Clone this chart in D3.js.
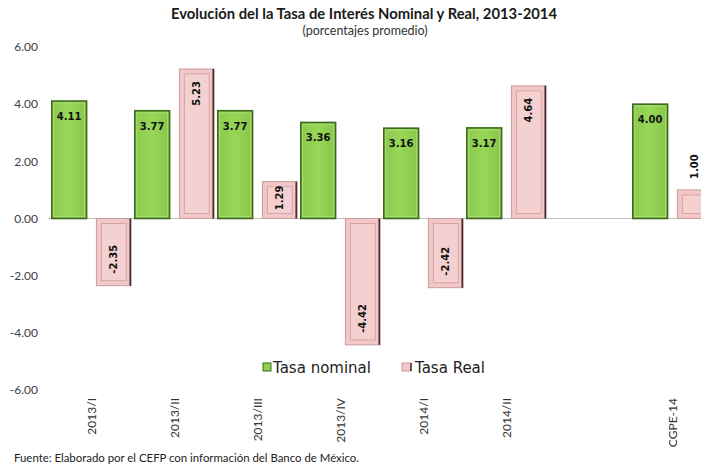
<!DOCTYPE html>
<html>
<head>
<meta charset="utf-8">
<script src="https://cdn.jsdelivr.net/npm/d3@7"></script>
<style>
  body { margin: 0; background: #fff; }
  svg { display: block; }
</style>
</head>
<body>
<div id="chart"></div>
<script>
// datos
let categories = ["2013/I", "2013/II", "2013/III", "2013/IV", "2014/I", "2014/II", "", "CGPE-14"];
let tasaNominal = [4.11, 3.77, 3.77, 3.36, 3.16, 3.17, null, 4.00];
let tasaReal = [-2.35, 5.23, 1.29, -4.42, -2.42, 4.64, null, 1.00];
let yTicks = [-6, -4, -2, 0, 2, 4, 6];

let W = 701, H = 467;
let margin = {top: 47, left: 50, bottom: 77};
let fmt = v => v.toFixed(2);   // guion normal, no el signo menos de d3.format

let svg = d3.select("#chart").append("svg")
    .attr("width", W)
    .attr("height", H);

let defs = svg.append("defs");
let gGreen = defs.append("linearGradient").attr("id", "gGreen")
    .attr("x1", 0).attr("y1", 0).attr("x2", 1).attr("y2", 0);
gGreen.append("stop").attr("offset", "0%").attr("stop-color", "#8cc94e");
gGreen.append("stop").attr("offset", "50%").attr("stop-color", "#97d757");
gGreen.append("stop").attr("offset", "100%").attr("stop-color", "#88c44a");

// escalas
let x = d3.scaleBand()
    .domain(categories.map((c, i) => i))
    .range([margin.left, margin.left + 83 * categories.length])
    .padding(0);
let xs = d3.scaleBand()
    .domain(["nominal", "real"])
    .range([0, x.bandwidth()])
    .paddingInner(0.22)
    .paddingOuter(0.04);
let y = d3.scaleLinear()
    .domain([-6, 6])
    .range([H - margin.bottom, margin.top]);

// titulo
svg.append("text")
    .attr("x", 364).attr("y", 19)
    .attr("text-anchor", "middle")
    .style("font-family", "Lato, 'Liberation Sans', sans-serif")
    .style("font-weight", "bold")
    .style("font-size", "14.8px")
    .style("fill", "#1a1a1a")
    .text("Evolución del la Tasa de Interés Nominal y Real, 2013-2014");
svg.append("text")
    .attr("x", 365).attr("y", 35)
    .attr("text-anchor", "middle")
    .style("font-family", "Lato, 'Liberation Sans', sans-serif")
    .style("font-size", "12.5px")
    .style("fill", "#333")
    .text("(porcentajes promedio)");

// eje y (solo etiquetas)
svg.append("g")
    .selectAll("text")
    .data(yTicks)
    .enter()
    .append("text")
    .attr("x", 38)
    .attr("y", d => y(d))
    .attr("dy", "0.35em")
    .attr("text-anchor", "end")
    .style("font-family", "Lato, 'Liberation Sans', sans-serif")
    .style("font-size", "12px")
    .style("fill", "#404040")
    .text(d => fmt(d));

// linea de cero
svg.append("line")
    .attr("x1", 48).attr("x2", W)
    .attr("y1", y(0)).attr("y2", y(0))
    .style("stroke", "#c0c0c0")
    .style("stroke-width", 1);

// barras nominales
let nomData = categories.map((c, i) => ({i: i, v: tasaNominal[i]})).filter(d => d.v !== null);
let realData = categories.map((c, i) => ({i: i, v: tasaReal[i]})).filter(d => d.v !== null);

let gNom = svg.append("g").selectAll("g")
    .data(nomData)
    .enter()
    .append("g");
gNom.append("rect")
    .attr("x", d => x(d.i) + xs("nominal"))
    .attr("y", d => y(Math.max(0, d.v)))
    .attr("width", xs.bandwidth())
    .attr("height", d => Math.abs(y(d.v) - y(0)))
    .style("fill", "url(#gGreen)")
    .style("stroke", "#3f6a1c")
    .style("stroke-width", 1.6);
gNom.append("rect")
    .attr("x", d => x(d.i) + xs("nominal") + 2)
    .attr("y", d => y(Math.max(0, d.v)) + 2)
    .attr("width", xs.bandwidth() - 4)
    .attr("height", d => Math.abs(y(d.v) - y(0)) - 4)
    .style("fill", "none")
    .style("stroke", "#b3e383")
    .style("stroke-opacity", 0.7)
    .style("stroke-width", 1);
gNom.append("text")
    .attr("x", d => x(d.i) + xs("nominal") + xs.bandwidth() / 2)
    .attr("y", d => y(d.v) + 19)
    .attr("text-anchor", "middle")
    .style("font-family", "'DejaVu Sans', sans-serif")
    .style("font-weight", "bold")
    .style("font-size", "10px")
    .style("fill", "#111")
    .text(d => fmt(d.v));

// barras reales
let gReal = svg.append("g").selectAll("g")
    .data(realData)
    .enter()
    .append("g");
gReal.append("rect")
    .attr("x", d => x(d.i) + xs("real"))
    .attr("y", d => y(Math.max(0, d.v)))
    .attr("width", xs.bandwidth())
    .attr("height", d => Math.abs(y(d.v) - y(0)))
    .style("fill", "#f3c7c7")
    .style("stroke", "#c99c9c")
    .style("stroke-width", 1);
gReal.append("rect")
    .attr("x", d => x(d.i) + xs("real") + 5)
    .attr("y", d => y(Math.max(0, d.v)) + 5)
    .attr("width", xs.bandwidth() - 10)
    .attr("height", d => Math.max(0, Math.abs(y(d.v) - y(0)) - 10))
    .style("fill", "#f5d0d0")
    .style("stroke", "#d4a6a6")
    .style("stroke-width", 1);
gReal.append("line")
    .attr("x1", d => x(d.i) + xs("real") + xs.bandwidth() - 1)
    .attr("x2", d => x(d.i) + xs("real") + xs.bandwidth() - 1)
    .attr("y1", d => y(Math.max(0, d.v)))
    .attr("y2", d => y(Math.min(0, d.v)))
    .style("stroke", "#3a2a2a")
    .style("stroke-width", 1.5);
gReal.append("text")
    .attr("transform", function (d) {
        let cx = x(d.i) + xs("real") + xs.bandwidth() / 2;
        let h = Math.abs(y(d.v) - y(0));
        let ty;
        if (d.v < 0) ty = y(d.v) - 12;
        else if (h < 33) ty = y(d.v) - 11;
        else ty = y(d.v) + Math.min(12, h - 33);
        return "translate(" + cx + "," + ty + ") rotate(-90)";
    })
    .attr("dy", "0.35em")
    .attr("text-anchor", function (d) {
        let h = Math.abs(y(d.v) - y(0));
        if (d.v < 0 || h < 33) return "start";
        return "end";
    })
    .style("font-family", "'DejaVu Sans', sans-serif")
    .style("font-weight", "bold")
    .style("font-size", "10px")
    .style("fill", "#111")
    .text(d => fmt(d.v));

// etiquetas eje x
svg.append("g")
    .selectAll("text")
    .data(categories.map((c, i) => ({c: c, i: i})).filter(d => d.c !== ""))
    .enter()
    .append("text")
    .attr("transform", d => "translate(" + (x(d.i) + x.bandwidth() / 2) + ",398) rotate(-90)")
    .attr("dy", "0.35em")
    .attr("text-anchor", "end")
    .style("font-family", "Lato, 'Liberation Sans', sans-serif")
    .style("font-size", "12px")
    .style("fill", "#333")
    .text(d => d.c);

// leyenda
let legend = svg.append("g");
legend.append("rect")
    .attr("x", 263).attr("y", 363).attr("width", 8).attr("height", 8)
    .style("fill", "#92d050").style("stroke", "#3f6a1c").style("stroke-width", 1);
legend.append("text")
    .attr("x", 273).attr("y", 373)
    .style("font-family", "'DejaVu Sans', sans-serif")
    .style("font-size", "15px")
    .style("fill", "#222")
    .text("Tasa nominal");
legend.append("rect")
    .attr("x", 402).attr("y", 363).attr("width", 9).attr("height", 8)
    .style("fill", "#f3c7c7").style("stroke", "#c99c9c").style("stroke-width", 1);
legend.append("line")
    .attr("x1", 411).attr("x2", 411).attr("y1", 363).attr("y2", 371)
    .style("stroke", "#3a2a2a").style("stroke-width", 1.5);
legend.append("text")
    .attr("x", 415).attr("y", 373)
    .style("font-family", "'DejaVu Sans', sans-serif")
    .style("font-size", "15px")
    .style("fill", "#222")
    .text("Tasa Real");

// fuente
svg.append("text")
    .attr("x", 14).attr("y", 462)
    .style("font-family", "Lato, 'Liberation Sans', sans-serif")
    .style("font-size", "11.4px")
    .style("fill", "#222")
    .text("Fuente: Elaborado por el CEFP con información del Banco de México.");
</script>
</body>
</html>
